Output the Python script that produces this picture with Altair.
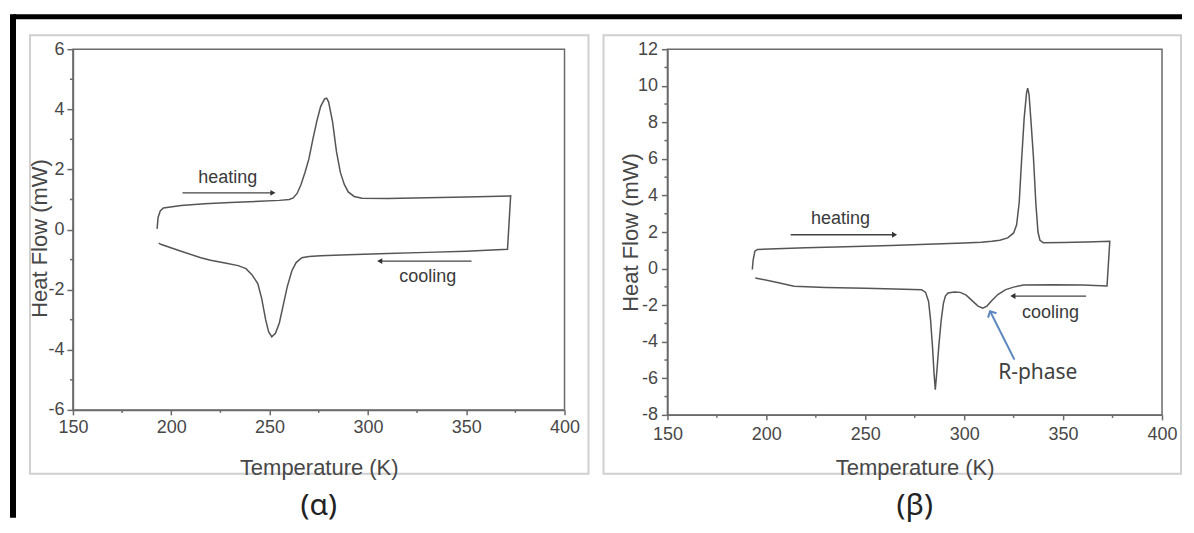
import altair as alt
import pandas as pd

# ---------------- data ----------------
X_TICKS = [150, 200, 250, 300, 350, 400]
X_MINOR = [175, 225, 275, 325, 375]

# (α) panel: heating branch (left -> right) and cooling branch (right -> left)
A_HEAT_T = [192.8, 193.3, 194.4, 196.0, 205, 217, 230, 245, 255, 260,
            262, 264, 266, 268, 270, 272, 274, 276, 278, 279,
            280, 282, 284, 286, 288, 290, 293, 297, 310, 330,
            350, 372.6]
A_HEAT_Q = [0.02, 0.4, 0.62, 0.72, 0.8, 0.86, 0.9, 0.94, 0.97, 1.0,
            1.05, 1.2, 1.5, 1.9, 2.35, 3.0, 3.6, 4.1, 4.35, 4.37,
            4.25, 3.6, 2.6, 1.9, 1.5, 1.25, 1.1, 1.04, 1.03, 1.06,
            1.08, 1.12]
A_COOL_T = [371.0, 350, 330, 310, 290, 276, 270, 266.4, 263.5, 261.3,
            259, 257, 255, 253, 251.1, 249.5, 248, 246, 244, 241,
            238, 234, 228, 220, 215, 205, 195, 193.6]
A_COOL_Q = [-0.66, -0.72, -0.76, -0.8, -0.84, -0.87, -0.9, -0.94, -1.1, -1.38,
            -1.9, -2.5, -3.1, -3.45, -3.57, -3.4, -3.0, -2.3, -1.8, -1.5,
            -1.3, -1.2, -1.12, -1.02, -0.94, -0.72, -0.5, -0.45]
A_Y_TICKS = [-6, -4, -2, 0, 2, 4, 6]
A_Y_MINOR = [-5, -3, -1, 1, 3, 5]

# (β) panel
B_HEAT_T = [192.9, 193.3, 194.2, 195.5, 205, 220, 240, 263, 285, 300,
            308.6, 314, 318, 322, 325, 326.5, 327.8, 329, 330.3, 331.5,
            332.1, 332.8, 333.8, 335, 336.2, 337.3, 338.3, 340, 350, 362,
            373.6]
B_HEAT_Q = [-0.05, 0.45, 0.95, 1.05, 1.08, 1.14, 1.2, 1.27, 1.34, 1.4,
            1.44, 1.49, 1.55, 1.68, 1.95, 2.4, 3.6, 5.9, 8.2, 9.6,
            9.87, 9.5, 8.0, 6.1, 3.6, 2.0, 1.55, 1.42, 1.43, 1.46,
            1.49]
B_COOL_T = [372.2, 360, 345, 330, 325.4, 321, 317, 314, 311.5, 309.4,
            307, 304, 301, 298, 295, 291.8, 290.5, 289.5, 288.4, 287.2,
            286.2, 285.4, 284.8, 284, 283, 282, 280.5, 278.5, 265, 250,
            230, 214, 205, 194.4]
B_COOL_Q = [-0.95, -0.9, -0.88, -0.9, -1.0, -1.15, -1.42, -1.75, -2.05, -2.17,
            -2.05, -1.75, -1.45, -1.3, -1.28, -1.33, -1.5, -1.9, -2.8, -4.2,
            -5.6, -6.62, -5.8, -4.3, -2.8, -1.8, -1.3, -1.15, -1.12, -1.08,
            -1.03, -0.97, -0.75, -0.51]
B_Y_TICKS = [-8, -6, -4, -2, 0, 2, 4, 6, 8, 10, 12]
B_Y_MINOR = [-7, -5, -3, -1, 1, 3, 5, 7, 9, 11]

# annotations
A_NOTE_TEXT = ["heating", "cooling"]
A_NOTE_X = [228.7, 330.4]
A_NOTE_Y = [1.72, -1.58]
A_ARROW_X1 = [205.7, 352.7]
A_ARROW_X2 = [251.7, 306.0]
A_ARROW_Y = [1.22, -1.05]

B_NOTE_TEXT = ["heating", "cooling"]
B_NOTE_X = [237.5, 343.6]
B_NOTE_Y = [2.71, -2.43]
B_ARROW_X1 = [212.3, 361.6]
B_ARROW_X2 = [264.8, 324.6]
B_ARROW_Y = [1.85, -1.5]

R_TEXT = ["R-phase"]
R_TEXT_X = [337.2]
R_TEXT_Y = [-5.7]
R_ARROW_X1 = [325.4]
R_ARROW_Y1 = [-4.98]
R_ARROW_X2 = [313.1]
R_ARROW_Y2 = [-2.33]

PANEL_LABELS = ["(α)", "(β)"]

# ---------------- style ----------------
FONT = "Liberation Sans"
AX = "#6a6a6a"
LAB = "#474747"
CURVE = "#555555"
MINUS_FIX = "replace(datum.label, '\u2212', '-')"


def make_panel(heat_T, heat_Q, cool_T, cool_Q, y_dom, y_ticks, y_minor,
               note_text, note_x, note_y, ax1, ax2, ay, W, H, frame,
               ytitle_x, ytitle_y, xtitle_y, xlab_pad, ylab_pad, label,
               extra=None):
    xs = alt.Scale(domain=[150, 400], nice=False, zero=False)
    ys = alt.Scale(domain=y_dom, nice=False, zero=False)
    one = pd.DataFrame({"k": [0]})

    x_axis = alt.Axis(values=X_TICKS, title="Temperature (K)", grid=False, zindex=1,
                      labelFont=FONT, labelFontSize=18, labelColor=LAB,
                      labelPadding=xlab_pad, labelFlush=False, labelOverlap=False,
                      tickColor=AX, tickWidth=1.5, tickSize=5,
                      domainColor=AX, domainWidth=1.5,
                      titleFont=FONT, titleFontSize=22, titleFontWeight="normal",
                      titleColor=LAB, titleY=xtitle_y, titleBaseline="middle")
    y_axis_kw = dict(values=y_ticks, title="Heat Flow (mW)", grid=False, zindex=1,
                     labelFont=FONT, labelFontSize=18, labelColor=LAB,
                     labelPadding=ylab_pad, labelFlush=False, labelOverlap=False,
                     labelExpr=MINUS_FIX,
                     tickColor=AX, tickWidth=1.5, tickSize=6,
                     domainColor=AX, domainWidth=1.5,
                     titleFont=FONT, titleFontSize=22, titleFontWeight="normal",
                     titleColor=LAB, titleX=ytitle_x, titleBaseline="middle")
    if ytitle_y is not None:
        y_axis_kw["titleY"] = ytitle_y
    y_axis = alt.Axis(**y_axis_kw)

    def X(f):
        return alt.X(f, scale=xs, axis=x_axis)

    def Y(f):
        return alt.Y(f, scale=ys, axis=y_axis)

    frame_rect = alt.Chart(one).mark_rect(
        filled=False, color="#d0d0d0", strokeWidth=2
    ).encode(x=alt.value(frame[0]), x2=alt.value(frame[1]),
             y=alt.value(frame[2]), y2=alt.value(frame[3]))

    curve_df = pd.DataFrame({
        "T": heat_T + cool_T,
        "Q": heat_Q + cool_Q,
        "o": list(range(len(heat_T) + len(cool_T))),
    })
    line = alt.Chart(curve_df).mark_line(
        color=CURVE, strokeWidth=1.5
    ).encode(x=X("T:Q"), y=Y("Q:Q"), order="o:Q")

    ymin = alt.Chart(pd.DataFrame({"Q": y_minor})).mark_rule(
        color=AX, strokeWidth=1.5
    ).encode(y=Y("Q:Q"), x=alt.value(-3), x2=alt.value(0))
    xmin = alt.Chart(pd.DataFrame({"T": X_MINOR})).mark_rule(
        color=AX, strokeWidth=1.5
    ).encode(x=X("T:Q"), y=alt.value(H), y2=alt.value(H + 3))

    arrows_df = pd.DataFrame({"T": ax1, "T2": ax2, "Q": ay})
    shafts = alt.Chart(arrows_df).mark_rule(
        color="#444444", strokeWidth=1.3
    ).encode(x=X("T:Q"), x2="T2:Q", y=Y("Q:Q"))
    heads = alt.Chart(arrows_df).transform_calculate(
        ang="datum.T2 > datum.T ? 0 : 180"
    ).mark_point(
        shape="triangle-right", filled=True, size=35, color="#333333", opacity=1
    ).encode(x=X("T2:Q"), y=Y("Q:Q"), angle=alt.Angle("ang:Q", scale=None))

    notes = alt.Chart(pd.DataFrame({"t": note_text, "T": note_x, "Q": note_y})).mark_text(
        font=FONT, fontSize=18, color="#3a3a3a"
    ).encode(x=X("T:Q"), y=Y("Q:Q"), text="t:N")

    plabel = alt.Chart(pd.DataFrame({"t": [label]})).mark_text(
        font="Noto Sans", fontSize=30, color="#222222"
    ).encode(text="t:N", x=alt.value(W / 2), y=alt.value(457))

    layers = [frame_rect, line, ymin, xmin, shafts, heads, notes, plabel]

    if extra == "alpha":
        vbar = alt.Chart(one).mark_rule(color="black", strokeWidth=6, strokeCap="square").encode(
            x=alt.value(-60), y=alt.value(-32), y2=alt.value(466))
        hbar = alt.Chart(one).mark_rule(color="black", strokeWidth=5).encode(
            x=alt.value(-60), x2=alt.value(1110), y=alt.value(-32.5))
        layers += [vbar, hbar]
    if extra == "beta":
        rdf = pd.DataFrame({"t": R_TEXT, "T": R_TEXT_X, "Q": R_TEXT_Y})
        rtext = alt.Chart(rdf).mark_text(
            font="Noto Sans", fontSize=21, color="#404040"
        ).encode(x=X("T:Q"), y=Y("Q:Q"), text="t:N")
        radf = pd.DataFrame({"T": R_ARROW_X1, "Q": R_ARROW_Y1,
                             "T2": R_ARROW_X2, "Q2": R_ARROW_Y2})
        rshaft = alt.Chart(radf).mark_rule(color="#5b86c0", strokeWidth=2).encode(
            x=X("T:Q"), x2="T2:Q", y=Y("Q:Q"), y2="Q2:Q")
        rhead = alt.Chart(radf).mark_point(
            shape="M-1,1L0,0L1,1", filled=False, size=90, strokeWidth=2,
            color="#5b86c0", opacity=1, angle=333
        ).encode(x=X("T2:Q"), y=Y("Q2:Q"))
        layers += [rtext, rshaft, rhead]

    return alt.layer(*layers).properties(width=W, height=H)


alpha = make_panel(A_HEAT_T, A_HEAT_Q, A_COOL_T, A_COOL_Q, [-6, 6], A_Y_TICKS, A_Y_MINOR,
                   A_NOTE_TEXT, A_NOTE_X, A_NOTE_Y, A_ARROW_X1, A_ARROW_X2, A_ARROW_Y,
                   W=492, H=361, frame=(-43, 516, -14, 425),
                   ytitle_x=-33, ytitle_y=189, xtitle_y=58, xlab_pad=4, ylab_pad=3,
                   label=PANEL_LABELS[0], extra="alpha")

beta = make_panel(B_HEAT_T, B_HEAT_Q, B_COOL_T, B_COOL_Q, [-8, 12], B_Y_TICKS, B_Y_MINOR,
                  B_NOTE_TEXT, B_NOTE_X, B_NOTE_Y, B_ARROW_X1, B_ARROW_X2, B_ARROW_Y,
                  W=495, H=366, frame=(-64, 514, -14, 425),
                  ytitle_x=-37, ytitle_y=None, xtitle_y=53, xlab_pad=6, ylab_pad=4,
                  label=PANEL_LABELS[1], extra="beta")

chart = alt.hconcat(
    alpha, beta, spacing=103, bounds="flush",
    padding={"left": 0, "top": 4, "right": 0, "bottom": 4},
).configure_view(stroke=AX, strokeWidth=1.5)

chart.save("out.html", embed_options={"renderer": "svg", "actions": False})
